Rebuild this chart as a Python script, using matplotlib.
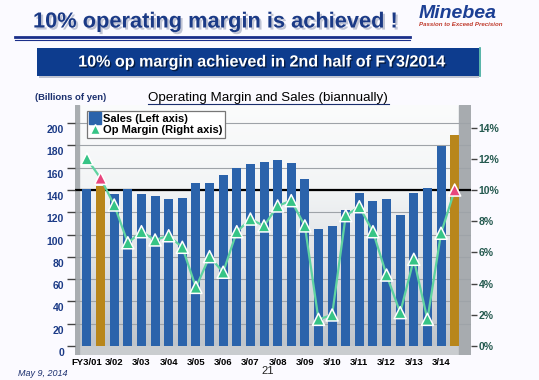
import numpy as np
import matplotlib
matplotlib.use("Agg")
import matplotlib.pyplot as plt
import matplotlib.patheffects as pe
from matplotlib.transforms import ScaledTranslation
from matplotlib.lines import Line2D
from matplotlib.patches import Rectangle
from matplotlib.colors import LinearSegmentedColormap

# ---------------- data ----------------
period_labels = ["FY3/01", "3/02", "3/03", "3/04", "3/05", "3/06", "3/07",
                 "3/08", "3/09", "3/10", "3/11", "3/12", "3/13", "3/14"]
sales = [140.7, 143.9, 136.4, 141.0, 136.4, 134.4, 132.2, 132.9, 146.0, 146.0,
         153.5, 159.8, 163.1, 165.2, 167.0, 164.5, 149.6, 104.7, 107.7, 122.0,
         137.0, 130.4, 131.7, 117.3, 137.6, 141.5, 179.8, 189.7]
op_margin = [12.0, 10.75, 9.04, 6.62, 7.33, 6.8, 7.07, 6.33, 3.76, 5.73,
             4.73, 7.33, 8.14, 7.7, 8.98, 9.32, 7.7, 1.71, 1.99, 8.36,
             8.93, 7.33, 4.55, 2.14, 5.56, 1.71, 7.23, 10.0]
highlight = [1, 27]
left_ticks = [0, 20, 40, 60, 80, 100, 120, 140, 160, 180, 200]
right_ticks = [0, 2, 4, 6, 8, 10, 12, 14]
ratio = 14.0  # left units per right-axis percent

FONT = ["Liberation Sans", "DejaVu Sans"]
plt.rcParams["font.family"] = FONT

W, H = 539, 380
fig = plt.figure(figsize=(W / 100, H / 100), dpi=100)
fig.patch.set_facecolor("#fbfaff")

def fx(px):
    return px / W

def fy(py):
    return 1 - py / H

# ---------------- header ----------------
fig.text(fx(33), fy(22), "10% operating margin is achieved !", fontsize=15.7,
         fontweight="bold", color="#1b3a86", va="center", ha="left",
         path_effects=[pe.withSimplePatchShadow(offset=(1.5, -1.5), shadow_rgbFace="#9aa0b8", alpha=0.6)])
fig.add_artist(Line2D([fx(15), fx(410)], [fy(36.5), fy(36.5)], color="#1b2f8a", lw=2.0))
fig.add_artist(Line2D([fx(15), fx(410)], [fy(39.5), fy(39.5)], color="#1b2f8a", lw=0.8))

fig.text(fx(419), fy(14), "Minebea", fontsize=14, fontweight="bold", style="italic",
         color="#1c3f94", va="center", ha="left")
fig.text(fx(419), fy(25), "Passion to Exceed Precision", fontsize=4.4, style="italic",
         color="#c0392b", va="center", ha="left", fontweight="bold")

# banner
fig.add_artist(Rectangle((fx(39), fy(78)), fx(479) - fx(39), fy(50) - fy(78),
                         transform=fig.transFigure, facecolor="#9aa0b4", edgecolor="none", alpha=0.6))
fig.add_artist(Rectangle((fx(37), fy(76)), fx(479) - fx(37), fy(48) - fy(76),
                         transform=fig.transFigure, facecolor="#0d3c8e", edgecolor="none"))
fig.add_artist(Line2D([fx(480), fx(480)], [fy(48), fy(76)], color="#3aa89a", lw=1.2))
fig.text(fx(262), fy(62), "10% op margin achieved in 2nd half of FY3/2014", fontsize=11.6,
         fontweight="bold", color="white", va="center", ha="center",
         path_effects=[pe.withSimplePatchShadow(offset=(1, -1), shadow_rgbFace="#000000", alpha=0.5)])

fig.text(fx(35), fy(97), "(Billions of yen)", fontsize=6.8, fontweight="bold",
         color="#1b2f6e", va="center", ha="left")
fig.text(fx(148), fy(98), "Operating Margin and Sales (biannually)", fontsize=9.6,
         color="black", va="center", ha="left")
fig.add_artist(Line2D([fx(148), fx(389)], [fy(104), fy(104)], color="#1b2f6e", lw=0.8))

fig.text(fx(18), fy(373), "May 9, 2014", fontsize=6.5, style="italic", color="#1b2f6e",
         va="center", ha="left")
fig.text(fx(268), fy(371), "21", fontsize=8, color="#222222", va="center", ha="center")

# ---------------- chart ----------------
px_per_unit = 1.114
y_floor = 346
ax_bottom_px, ax_top_px = 355, 105
ylo = -(ax_bottom_px - y_floor) / px_per_unit
yhi = (y_floor - ax_top_px) / px_per_unit
ax = fig.add_axes([fx(75), fy(ax_bottom_px), fx(471) - fx(75), fy(ax_top_px) - fy(ax_bottom_px)])

n = len(sales)
x = np.arange(n)
xlo = -0.88
xhi = 28.2
ax.set_xlim(xlo, xhi)
ax.set_ylim(ylo, yhi)

# background gradient
grad = np.linspace(0, 1, 256).reshape(-1, 1)
cmap = LinearSegmentedColormap.from_list("bg", ["#bfc4ca", "#dde0e3", "#f3f5f6", "#fbfcfc"])
ax.imshow(grad, extent=[xlo, xhi, 0, yhi], origin="lower", aspect="auto", cmap=cmap, zorder=0)
ax.axhspan(ylo, 0, color="#c9cccf", zorder=0.5)
ax.axvspan(xlo, -0.55, color="#a9adb1", zorder=0.6)
ax.axvspan(27.35, xhi, color="#a7abaf", zorder=0.6)

for v in left_ticks[1:]:
    ax.axhline(v, color="#9ea3a8", lw=0.8, zorder=1)
ax.axhline(140, color="black", lw=1.6, zorder=1.5)

bar_colors = ["#b8861b" if i in highlight else "#2b63ab" for i in range(n)]
ax.bar(x, sales, width=0.66, color=bar_colors, edgecolor="none", zorder=2)

ax.set_yticks(left_ticks)
ax.set_yticklabels([str(v) for v in left_ticks])
ax.tick_params(axis="y", length=6, width=1, color="#444444", pad=2, labelsize=7.5,
               labelcolor="#1b3a86")
for lbl in ax.get_yticklabels():
    lbl.set_fontweight("bold")
    lbl.set_transform(lbl.get_transform() + ScaledTranslation(0, -6 / 100, fig.dpi_scale_trans))

ax.set_xticks(x[::2])
ax.set_xticklabels(period_labels)
ax.tick_params(axis="x", length=0, pad=2, labelsize=6.8, labelcolor="black")
for lbl in ax.get_xticklabels():
    lbl.set_fontweight("bold")

for s in ax.spines.values():
    s.set_visible(False)

# right axis
ax2 = ax.twinx()
ax2.set_ylim(ylo / ratio, yhi / ratio)
ax2.set_xlim(xlo, xhi)
ax2.plot(x, op_margin, color="#5fd3a1", lw=1.6, zorder=3)
mcol = ["#e8457d" if i in highlight else "#36c486" for i in range(n)]
ax2.scatter(x, op_margin, marker="^", s=75, c=mcol, edgecolors="white", linewidths=1.1, zorder=4)
ax2.set_yticks(right_ticks)
ax2.set_yticklabels([f"{v}%" for v in right_ticks])
ax2.tick_params(axis="y", length=4, width=1, color="#444444", pad=1.5, labelsize=7.5,
                labelcolor="#24594f")
for lbl in ax2.get_yticklabels():
    lbl.set_fontweight("bold")
for s in ax2.spines.values():
    s.set_visible(False)

# legend
handles = [
    Line2D([], [], marker="s", linestyle="none", markersize=8.5, color="#2b63ab"),
    Line2D([], [], marker="^", linestyle="none", markersize=7, color="#36c486",
           markeredgecolor="white"),
]
axw = fx(471) - fx(75)
leg = ax2.legend(handles, ["Sales (Left axis)", "Op Margin (Right axis)"],
                 loc="upper left",
                 bbox_to_anchor=((fx(87) - fx(75)) / axw, 1 - (111 - ax_top_px) / (ax_bottom_px - ax_top_px)),
                 frameon=True, fancybox=False, edgecolor="#777777", framealpha=1,
                 prop={"weight": "bold", "size": 8}, handlelength=0.9, handletextpad=0.3,
                 borderpad=0.25, labelspacing=0.1, borderaxespad=0)
leg.get_frame().set_linewidth(0.9)

fig.savefig("out.png", dpi=100, facecolor=fig.get_facecolor())
